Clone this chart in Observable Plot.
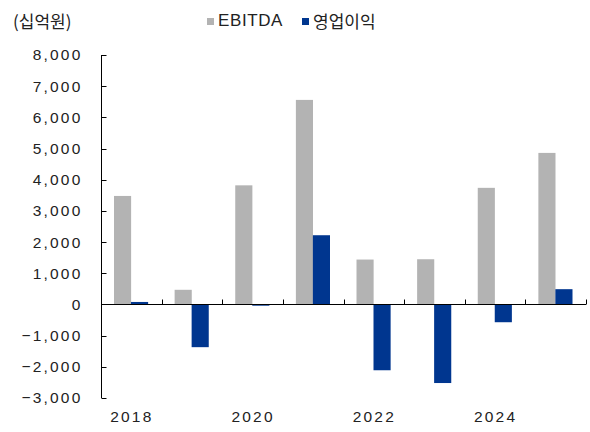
<!DOCTYPE html>
<html><head><meta charset="utf-8">
<script src="https://cdn.jsdelivr.net/npm/d3@7"></script>
<script src="https://cdn.jsdelivr.net/npm/@observablehq/plot@0.6"></script>
<style>
body{margin:0;background:#fff;width:590px;height:432px;overflow:hidden;font-family:"Liberation Sans",Arial,sans-serif;}
#head{position:relative;height:38px;color:#222;}
#unit{position:absolute;left:13px;top:8px;font-size:17px;font-family:"Noto Sans CJK KR","Liberation Sans",sans-serif;line-height:26px;}
.lg{position:absolute;top:8px;font-size:17px;line-height:26px;display:flex;align-items:center;}
.sw{display:inline-block;width:7px;height:7px;margin-right:4px;}
svg text{letter-spacing:2.2px;}
</style></head>
<body>
<div id="head"><span id="unit">(십억원)</span>
<span class="lg" style="left:207px"><span class="sw" style="background:#b3b3b3"></span><span style="font-family:'Liberation Sans';letter-spacing:0.6px">EBITDA</span></span>
<span class="lg" style="left:302px"><span class="sw" style="background:#00368f"></span><span style="font-family:'Noto Sans CJK KR'">영업이익</span></span>
</div>
<div id="chart"></div>
<script>
const years = ["2018","2019","2020","2021","2022","2023","2024","2025"];
const ebitda = [3480, 470, 3820, 6560, 1440, 1450, 3740, 4860];
const opIncome = [80, -1370, -40, 2220, -2110, -2520, -570, 490];
const yTicks = [-3000,-2000,-1000,0,1000,2000,3000,4000,5000,6000,7000,8000];
const xLabels = ["2018","2020","2022","2024"];
const colors = {ebitda:"#b3b3b3", op:"#00368f"};

const dataE = years.map((y,i)=>({year:y, value:ebitda[i]}));
const dataO = years.map((y,i)=>({year:y, value:opIncome[i]}));

const axisMarks = (index, scales, values, dim) => {
  const g = d3.create("svg:g").attr("stroke","#000").attr("stroke-width",1);
  const x = scales.x, y = scales.y;
  const bw = x.bandwidth ? x.bandwidth() : (x(years[1]) - x(years[0]));
  const left = dim.marginLeft + 0.5;
  g.append("line").attr("x1",left).attr("x2",left).attr("y1",y(yTicks.at(-1))).attr("y2",y(yTicks[0]));
  g.selectAll(".yt").data(yTicks).join("line").attr("x1",left).attr("x2",left+5)
    .attr("y1",d=>Math.round(y(d))+0.5).attr("y2",d=>Math.round(y(d))+0.5);
  const bounds = years.map(d=>x(d)).concat([x(years.at(-1))+bw]);
  const y0 = Math.round(y(0))+0.5;
  g.append("line").attr("x1",left).attr("x2",bounds.at(-1)).attr("y1",y0).attr("y2",y0);
  g.selectAll(".xt").data(bounds).join("line").attr("x1",d=>Math.round(d)+0.5).attr("x2",d=>Math.round(d)+0.5)
    .attr("y1",y0).attr("y2",y0-5);
  return g.node();
};

const plot = Plot.plot({
  width: 590,
  height: 394,
  marginLeft: 101,
  marginRight: 4,
  marginTop: 17,
  marginBottom: 34,
  style: {fontSize: "16px", fontFamily: "'Liberation Sans', sans-serif", color: "#222"},
  x: {domain: years, padding: 0, round: false, axis: null},
  y: {domain: [-3000, 8000], axis: null},
  marks: [
    Plot.barY(dataE, {x:"year", y:"value", fill: colors.ebitda, insetLeft: 13, insetRight: 30.5}),
    Plot.barY(dataO, {x:"year", y:"value", fill: colors.op, insetLeft: 30, insetRight: 13.5}),
    Plot.axisY({ticks: yTicks, tickSize: 0, tickPadding: 19, tickFormat: d3.format(","), fontSize: 15.5, label: null}),
    Plot.axisX({ticks: xLabels, tickSize: 0, tickPadding: 12, fontSize: 15.5, label: null}),
    axisMarks
  ]
});
document.getElementById("chart").appendChild(plot);
</script>
</body></html>
